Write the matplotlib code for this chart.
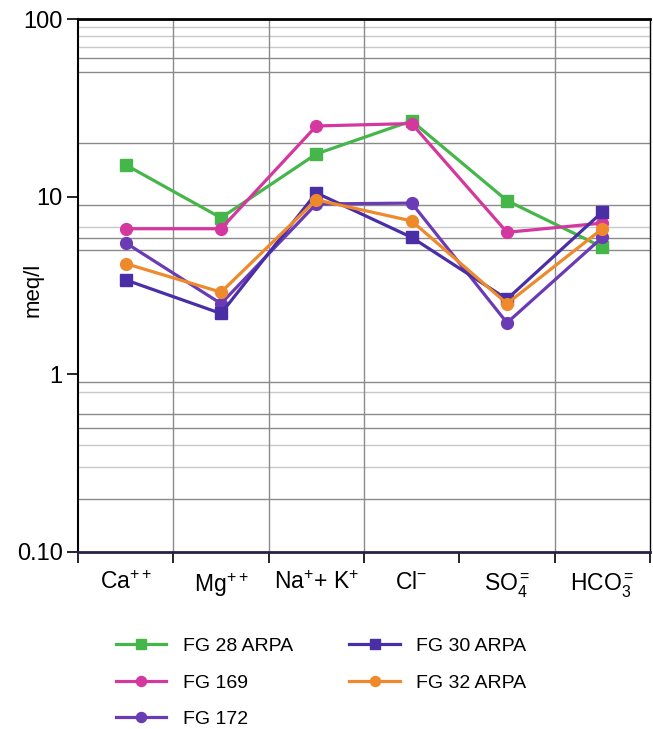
import matplotlib
matplotlib.use("Agg")
import matplotlib.pyplot as plt

plt.rcParams['font.family'] = ['Liberation Sans', 'DejaVu Sans']
plt.rcParams['mathtext.fontset'] = 'custom'
plt.rcParams['mathtext.rm'] = 'Liberation Sans'
plt.rcParams['mathtext.it'] = 'Liberation Sans'

categories = [r'Ca$^{++}$', r'Mg$^{++}$', r'Na$^{+}$+ K$^{+}$', r'Cl$^{-}$', r'SO$_4^{=}$', r'HCO$_3^{=}$']

fg28_arpa = [15.1, 7.6, 17.4, 26.7, 9.5, 5.2]
fg169 = [6.6, 6.6, 25.0, 25.8, 6.3, 7.1]
fg172 = [5.5, 2.5, 9.1, 9.2, 1.95, 5.9]
fg30_arpa = [3.4, 2.2, 10.5, 5.9, 2.65, 8.2]
fg32_arpa = [4.2, 2.9, 9.6, 7.3, 2.5, 6.6]

series = [
    ('FG 28 ARPA', fg28_arpa, '#45b649', 's'),
    ('FG 169', fg169, '#d4389f', 'o'),
    ('FG 172', fg172, '#6a3bb5', 'o'),
    ('FG 30 ARPA', fg30_arpa, '#4a2ea6', 's'),
    ('FG 32 ARPA', fg32_arpa, '#ee8a2c', 'o'),
]

hgrid = [90, 80, 70, 60, 50, 20, 9, 6.75, 5.85, 5, 0.9, 0.8, 0.6, 0.5, 0.4, 0.3, 0.2]
hgrid_dark = [60, 50, 20, 9, 5.85, 5, 0.9, 0.6, 0.5, 0.2]

fig = plt.figure(figsize=(6.53, 7.29), dpi=100)
ax = fig.add_axes([78/653, 1-552/729, (650-78)/653, (552-19)/729])
ax.set_yscale('log')
ax.set_ylim(0.1, 100)
n = len(categories)
ax.set_xlim(-0.5, n - 0.5)

for v in hgrid:
    c = '#8a8a8a' if v in hgrid_dark else '#c8c8c8'
    ax.axhline(v, color=c, lw=1.0, zorder=1)
for xb in [0.5, 1.5, 2.5, 4.5]:
    ax.axvline(xb, color='#8a8a8a', lw=1.0, zorder=1)

x = list(range(n))
for name, vals, col, mk in series:
    ms = 9 if mk == 's' else 8.5
    ax.plot(x, vals, color=col, lw=2.3, marker=mk, ms=ms, label=name, zorder=3)

ax.set_yticks([0.1, 1, 10, 100])
ax.set_yticklabels(['0.10', '1', '10', '100'])
ax.yaxis.set_minor_locator(matplotlib.ticker.NullLocator())
ax.tick_params(axis='y', which='major', length=8, width=1.2, labelsize=17, pad=3)

ax.set_xticks([i - 0.5 for i in range(n + 1)])
ax.set_xticklabels([''] * (n + 1))
ax.set_xticks(x, minor=True)
ax.set_xticklabels(categories, minor=True)
ax.tick_params(axis='x', which='major', length=8, width=1.2, direction='out')
ax.tick_params(axis='x', which='minor', length=0, labelsize=16.5, pad=14)

for s in ['top', 'left', 'right']:
    ax.spines[s].set_color('black')
ax.spines['top'].set_linewidth(2.0)
ax.spines['left'].set_linewidth(1.5)
ax.spines['right'].set_linewidth(1.0)
ax.spines['bottom'].set_linewidth(2.0)
ax.spines['bottom'].set_color('#2a1f4a')

fig.text(33/653, 1-290/729, 'meq/l', rotation=90, ha='center', va='center', fontsize=16)

handles, labels = ax.get_legend_handles_labels()
fig.legend(handles, labels, loc='upper left', bbox_to_anchor=(104/653, 1-626/729),
           ncol=2, frameon=False, fontsize=14, handlelength=2.6, handletextpad=0.85,
           columnspacing=2.9, labelspacing=0.97, markerscale=0.85, borderaxespad=0.2)

fig.savefig('out.png', dpi=100)
